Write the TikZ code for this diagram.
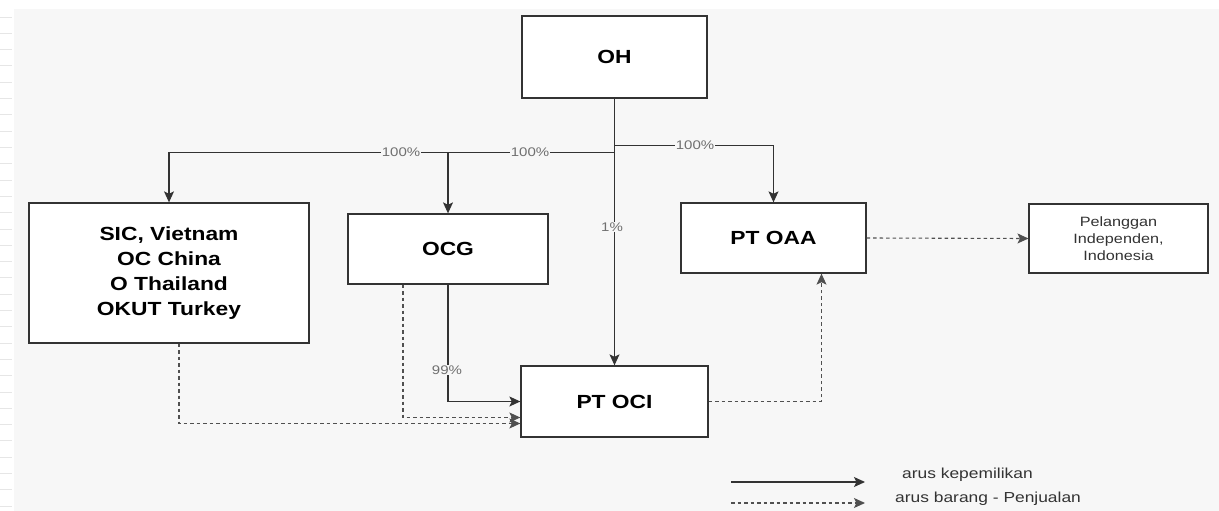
\documentclass[tikz,border=0pt]{standalone}
\usepackage{fontspec}
\setmainfont{Liberation Sans}[FakeStretch=1.2]
\usetikzlibrary{arrows.meta,calc}
\definecolor{bgc}{HTML}{F7F7F7}
\definecolor{lnc}{HTML}{333333}
\definecolor{dsc}{HTML}{505050}
\definecolor{lbc}{HTML}{707070}
\definecolor{tkc}{HTML}{E6E6E6}
\tikzset{
  box/.style={draw=lnc, line width=1.3pt, fill=white, inner sep=0pt, align=center,
    font=\fontsize{19}{25}\selectfont\bfseries, text=black},
  smallbox/.style={draw=lnc, line width=1.1pt, fill=white, inner sep=0pt, align=center,
    font=\fontsize{13.5}{17}\selectfont, text=lnc},
  own/.style={draw=lnc, line width=1.2pt, -{Stealth[length=11pt,width=10pt,inset=2.5pt]}},
  flow/.style={draw=dsc, line width=1.1pt, dash pattern=on 3.5pt off 3pt,
    -{Stealth[length=11pt,width=10pt,inset=2.5pt]}},
  lbl/.style={fill=bgc, inner sep=1pt, text=lbc, font=\fontsize{12.5}{14}\selectfont},
  legtext/.style={anchor=west, inner sep=0pt, text=lnc, font=\fontsize{14.5}{17}\selectfont}
}
\begin{document}
\begin{tikzpicture}[x=1pt,y=-1pt]
\useasboundingbox (0,0) rectangle (1219,511);
\fill[white] (0,0) rectangle (1219,511);
\fill[bgc] (14,9) rectangle (1219,511);
\foreach \t in {0,...,30} {\draw[tkc, line width=0.8pt] (0,{17+16.3*\t}) -- (12,{17+16.3*\t});}

% nodes
\node[box, minimum width=185pt, minimum height=82pt] (oh) at (614.5,57) {OH};
\node[box, minimum width=280pt, minimum height=140pt] (sic) at (169,273)
  {SIC, Vietnam\\OC China\\O Thailand\\OKUT Turkey};
\node[box, minimum width=200pt, minimum height=70pt] (ocg) at (448,249) {OCG};
\node[box, minimum width=185pt, minimum height=70pt] (oaa) at (773.5,238) {PT OAA};
\node[smallbox, minimum width=179pt, minimum height=69pt] (pel) at (1118.5,238.5)
  {Pelanggan\\Independen,\\Indonesia};
\node[box, minimum width=187pt, minimum height=71pt] (oci) at (614.5,401.5) {PT OCI};

% ownership connectors
\draw[own] (oh.south) -- ++(0,54) -| (sic.north);
\draw[own] (oh.south) -- ++(0,54) -| (ocg.north);
\draw[own] (oh.south) -- ++(0,47) -| (oaa.north);
\draw[own] (oh.south) -- (oci.north);
\draw[own] (ocg.south) |- (oci.west);

% goods flow connectors
\draw[flow] ([xshift=-45pt]ocg.south) |- ([yshift=-16pt]oci.west);
\draw[flow] ([xshift=10pt]sic.south) |- ([yshift=-22pt]oci.west);
\draw[flow] (oci.east) -| ([xshift=48pt]oaa.south);
\draw[flow] (oaa.east) -- (pel.west);

% labels
\node[lbl] (l1) at (401,152) {100\%};
\node[lbl] (l2) at (530,152) {100\%};
\node[lbl] (l3) at (695,145) {100\%};
\node[lbl] (l4) at (612,227) {1\%};
\node[lbl] (l5) at (447,370) {99\%};

% legend
\coordinate (a1) at (731,482);
\coordinate (a2) at (865,482);
\coordinate (b1) at (731,503);
\coordinate (b2) at (865,503);
\draw[own] (a1) -- (a2);
\draw[flow] (b1) -- (b2);
\node[legtext] (t1) at (902,475) {arus kepemilikan};
\node[legtext] (t2) at (895,499) {arus barang - Penjualan};
\end{tikzpicture}
\end{document}
